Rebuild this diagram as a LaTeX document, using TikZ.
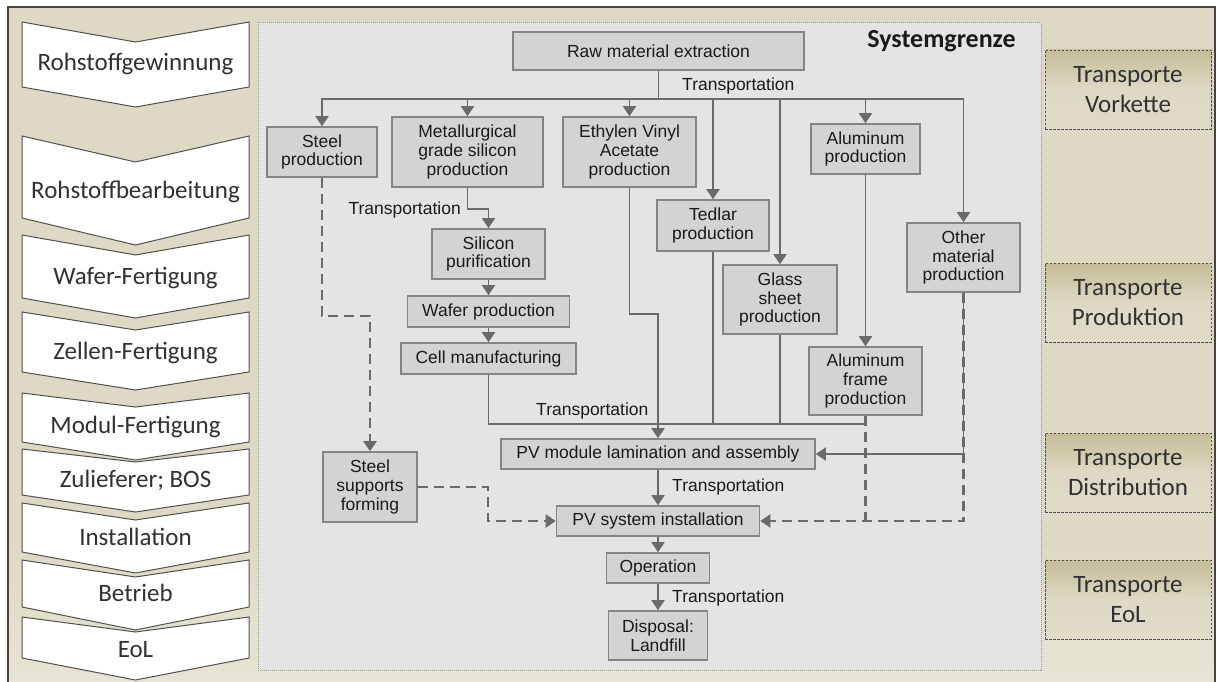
\documentclass[tikz,border=0pt]{standalone}
\usepackage{fontspec}
\setmainfont{Liberation Sans}
\newfontfamily\calfont{Carlito}
\usetikzlibrary{arrows.meta}
\definecolor{beigebg}{HTML}{DDD9C4}
\definecolor{beigedark}{HTML}{C4BD97}
\definecolor{beigelight}{HTML}{DFDBC7}
\definecolor{framecol}{HTML}{454545}
\definecolor{sysbg}{HTML}{E4E4E4}
\definecolor{sysborder}{HTML}{9A9A9A}
\definecolor{boxfill}{HTML}{D3D3D3}
\definecolor{boxborder}{HTML}{858585}
\definecolor{linecol}{HTML}{6A6A6A}
\definecolor{txtcol}{HTML}{1A1A1A}
\definecolor{chevborder}{HTML}{505050}
\pgfdeclareverticalshading{bgshade}{100bp}{color(0bp)=(white); color(36bp)=(beigebg); color(100bp)=(beigebg)}
\tikzset{
  chev/.style={draw=chevborder, fill=white, line width=1pt, line join=miter},
  chevtext/.style={font=\calfont\fontsize{25}{30}\selectfont, text=txtcol!90!white, inner sep=0},
  tbox/.style={draw=chevborder, dash pattern=on 2.5pt off 1.5pt, line width=0.8pt,
    top color=beigedark, bottom color=beigelight, middle color=beigebg,
    minimum width=166, minimum height=79, inner sep=0, align=center,
    font=\calfont\fontsize{25}{29.5}\selectfont, text=txtcol!90!white},
  fbox/.style={draw=boxborder, fill=boxfill, line width=1.6pt, inner sep=0, align=center,
    font=\fontsize{17.5}{18.6}\selectfont, text=txtcol},
  tlabel/.style={font=\fontsize{17.5}{18.6}\selectfont, text=txtcol, inner sep=0},
  ln/.style={draw=linecol, line width=1.8pt},
  dl/.style={draw=linecol, line width=2.6pt, dash pattern=on 10pt off 6pt},
  arr/.style={-{Triangle[width=13pt,length=10pt]}},
}
\begin{document}
\begin{tikzpicture}[x=1pt,y=-1pt]
\useasboundingbox (0,0) rectangle (1219,682);
\fill[white] (0,0) rectangle (1219,682);
% outer frame
\shade[shading=bgshade] (8,7) rectangle (1215,690);
\draw[framecol, line width=1.3pt] (8,690) -- (8,7) -- (1215,7) -- (1215,690);

% chevrons
\draw[chev] (22,22) -- (135.5,42) -- (249,22) -- (249,87) -- (135.5,107) -- (22,87) -- cycle;
\node[chevtext] (c1) at (135.5,64) {Rohstoffgewinnung};
\draw[chev] (22,136) -- (135.5,162) -- (249,136) -- (249,218) -- (135.5,245) -- (22,218) -- cycle;
\node[chevtext] (c2) at (135.5,192) {Rohstoffbearbeitung};
\draw[chev] (22,235) -- (135.5,255) -- (249,235) -- (249,298) -- (135.5,318) -- (22,298) -- cycle;
\node[chevtext] (c3) at (135.5,278) {Wafer-Fertigung};
\draw[chev] (22,312) -- (135.5,330) -- (249,312) -- (249,372) -- (135.5,390) -- (22,372) -- cycle;
\node[chevtext] (c4) at (135.5,353) {Zellen-Fertigung};
\draw[chev] (22,393) -- (135.5,407) -- (249,393) -- (249,442) -- (135.5,460) -- (22,442) -- cycle;
\node[chevtext] (c5) at (135.5,427) {Modul-Fertigung};
\draw[chev] (22,449) -- (135.5,462) -- (249,449) -- (249,495) -- (135.5,512) -- (22,495) -- cycle;
\node[chevtext] (c6) at (135.5,480) {Zulieferer; BOS};
\draw[chev] (22,503) -- (135.5,520) -- (249,503) -- (249,552) -- (135.5,573) -- (22,552) -- cycle;
\node[chevtext] (c7) at (135.5,537) {Installation};
\draw[chev] (22,560) -- (135.5,577) -- (249,560) -- (249,607) -- (135.5,630) -- (22,607) -- cycle;
\node[chevtext] (c8) at (135.5,593) {Betrieb};
\draw[chev] (22,617) -- (135.5,632) -- (249,617) -- (249,658) -- (135.5,680) -- (22,658) -- cycle;
\node[chevtext] (c9) at (135.5,650) {EoL};

% transport boxes
\node[tbox] (t1) at (1128,89.5) {Transporte\\Vorkette};
\node[tbox] (t2) at (1128,302.5) {Transporte\\Produktion};
\node[tbox] (t3) at (1128,472.5) {Transporte\\Distribution};
\node[tbox] (t4) at (1128,599.5) {Transporte\\EoL};

% system boundary
\draw[fill=sysbg, draw=sysborder, line width=0.8pt, dash pattern=on 1pt off 1pt] (258,22) rectangle (1041,670);
\node[font=\calfont\bfseries\fontsize{26}{30}\selectfont, text=txtcol, inner sep=0] (sg) at (941.5,41) {Systemgrenze};

% boxes
\node[fbox, minimum width=291, minimum height=38] (raw) at (658.5,51) {Raw material extraction};
\node[fbox, minimum width=110, minimum height=50] (steel) at (322,152) {Steel\\production};
\node[fbox, minimum width=151, minimum height=70] (mg) at (467.5,152) {Metallurgical\\grade silicon\\production};
\node[fbox, minimum width=133, minimum height=70] (eva) at (629.5,152) {Ethylen Vinyl\\Acetate\\production};
\node[fbox, minimum width=112, minimum height=51] (ted) at (713,225.5) {Tedlar\\production};
\node[fbox, minimum width=114, minimum height=69] (gla) at (780,299.5) {Glass\\sheet\\production};
\node[fbox, minimum width=109, minimum height=50] (alp) at (865.5,149) {Aluminum\\production};
\node[fbox, minimum width=113, minimum height=69] (oth) at (963.5,257.5) {Other\\material\\production};
\node[fbox, minimum width=113, minimum height=50] (sip) at (488.5,254) {Silicon\\purification};
\node[fbox, minimum width=162, minimum height=31] (waf) at (488.5,311.5) {Wafer production};
\node[fbox, minimum width=175, minimum height=31] (cell) at (488.5,358.5) {Cell manufacturing};
\node[fbox, minimum width=113, minimum height=68] (alf) at (865.5,381) {Aluminum\\frame\\production};
\node[fbox, minimum width=314, minimum height=30] (pvm) at (658,454) {PV module lamination and assembly};
\node[fbox, minimum width=94, minimum height=70] (sup) at (370,487) {Steel\\supports\\forming};
\node[fbox, minimum width=203, minimum height=30] (pvs) at (658,521) {PV system installation};
\node[fbox, minimum width=103, minimum height=30] (ope) at (658,568) {Operation};
\node[fbox, minimum width=99, minimum height=49] (dis) at (658,635.5) {Disposal:\\Landfill};

% labels
\node[tlabel, anchor=west] (tr1) at (682,86) {Transportation};
\node[tlabel, anchor=east] (tr2) at (461,210) {Transportation};
\node[tlabel, anchor=west] (tr3) at (536,411) {Transportation};
\node[tlabel, anchor=west] (tr4) at (672,487) {Transportation};
\node[tlabel, anchor=west] (tr5) at (672,598) {Transportation};

% coordinates
\coordinate (bus) at (658.5,99);
\coordinate (col) at (865.5,424);

% connectors
\draw[ln] (raw.south) -- (bus);
\draw[ln,arr] (bus) -| (steel.north);
\draw[ln,arr] (bus) -| (mg.north);
\draw[ln,arr] (bus) -| (eva.north);
\draw[ln,arr] (bus) -| (ted.north);
\draw[ln,arr] (bus) -| (gla.north);
\draw[ln,arr] (bus) -| (alp.north);
\draw[ln,arr] (bus) -| (oth.north);
\draw[ln,arr] (mg.south) -- ++(0,21) -| (sip.north);
\draw[ln,arr] (sip.south) -- (waf.north);
\draw[ln,arr] (waf.south) -- (cell.north);
\draw[ln,arr] (alp.south) -- (alf.north);
\draw[ln] (cell.south) |- (col);
\draw[ln] (ted.south) -- (ted.south |- col);
\draw[ln] (gla.south) -- (gla.south |- col);
\draw[ln] (alf.south) -- (col);
\draw[ln,arr] (eva.south) -- ++(0,126) -| (pvm.north);
\draw[ln,arr] (oth.south) |- (pvm.east);
\draw[dl,arr] (oth.south) |- (pvs.east);
\draw[dl] (alf.south) -- (alf.south |- pvs.east);
\draw[dl,arr] (steel.south) -- ++(0,138) -| (sup.north);
\draw[dl,arr] (sup.east) -- ++(70,0) |- (pvs.west);
\draw[ln,arr] (pvm.south) -- (pvs.north);
\draw[ln,arr] (pvs.south) -- (ope.north);
\draw[ln,arr] (ope.south) -- (dis.north);
\end{tikzpicture}
\end{document}
